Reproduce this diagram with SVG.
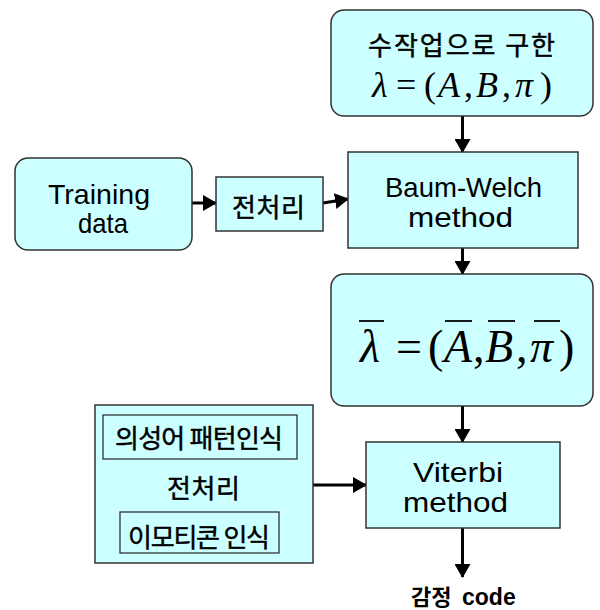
<svg xmlns="http://www.w3.org/2000/svg" width="600" height="610" viewBox="0 0 600 610">
<style>
.box{fill:#CCFFFF;stroke:#333333;stroke-width:1.5}
.inner{fill:#CCFFFF;stroke:#333333;stroke-width:1.3}
.lat{font-family:"Liberation Sans","Noto Sans CJK KR",sans-serif;font-size:28px;fill:#000}
.kr{font-family:"Noto Sans CJK KR","Liberation Sans",sans-serif;font-size:26px;fill:#000;stroke:#000;stroke-width:0.45}
.m{font-family:"Liberation Serif",serif;fill:#000}
.i{font-style:italic}
.conn{stroke:#000;stroke-width:3;fill:none;marker-end:url(#ah)}
.bar{stroke:#000;stroke-width:1.8}
</style>
<defs>
<marker id="ah" markerUnits="userSpaceOnUse" markerWidth="14" markerHeight="16" refX="13" refY="8" orient="auto">
<path d="M0,0 L14,8 L0,16 z" fill="#000"/>
</marker>
</defs>
<rect width="600" height="610" fill="#FFFFFF"/>

<g id="connectors">
<line class="conn" x1="462.5" y1="116" x2="462.5" y2="152"/>
<line class="conn" x1="192" y1="203" x2="216" y2="203"/>
<line class="conn" x1="323" y1="203" x2="348" y2="199"/>
<line class="conn" x1="462.5" y1="248" x2="462.5" y2="274"/>
<line class="conn" x1="462.5" y1="406" x2="462.5" y2="442"/>
<line class="conn" x1="313" y1="485" x2="366" y2="485"/>
<line class="conn" x1="462.5" y1="528" x2="462.5" y2="577"/>
</g>

<g id="initial-model">
<rect class="box" x="331" y="10" width="262" height="106" rx="13"/>
<text class="kr" x="461.5" y="54.5" text-anchor="middle" textLength="187" lengthAdjust="spacing">수작업으로 구한</text>
<g class="m" font-size="36">
<text class="i" x="372" y="97">λ</text>
<text x="396" y="97">=</text>
<text x="424" y="97">(</text>
<text class="i" x="438" y="97">A</text>
<text x="464" y="97">,</text>
<text class="i" x="476" y="97">B</text>
<text x="502" y="97">,</text>
<text class="i" x="515" y="97">π</text>
<text x="540" y="97">)</text>
</g>
</g>

<g id="training-data">
<rect class="box" x="15" y="158" width="177" height="92" rx="13"/>
<text class="lat" x="99" y="204" text-anchor="middle" textLength="102" lengthAdjust="spacingAndGlyphs">Training</text>
<text class="lat" x="103" y="233" text-anchor="middle" textLength="50" lengthAdjust="spacingAndGlyphs">data</text>
</g>

<g id="preprocess-1">
<rect class="box" x="216" y="177" width="107" height="54"/>
<text class="kr" x="268.5" y="216.5" font-size="27" text-anchor="middle" textLength="73" lengthAdjust="spacing">전처리</text>
</g>

<g id="baum-welch">
<rect class="box" x="348" y="152" width="230" height="96"/>
<text class="lat" x="463.5" y="197" text-anchor="middle" textLength="157" lengthAdjust="spacingAndGlyphs">Baum-Welch</text>
<text class="lat" x="460.5" y="227" text-anchor="middle" textLength="105" lengthAdjust="spacingAndGlyphs">method</text>
</g>

<g id="trained-model">
<rect class="box" x="331" y="274" width="262" height="132" rx="13"/>
<g class="m" font-size="46">
<text class="i" x="360" y="362">λ</text>
<text x="396" y="362">=</text>
<text x="428" y="362">(</text>
<text class="i" x="444" y="362">A</text>
<text x="473" y="362">,</text>
<text class="i" x="485" y="362">B</text>
<text x="516" y="362">,</text>
<text class="i" x="530" y="362">π</text>
<text x="559" y="362">)</text>
</g>
<line class="bar" x1="359" y1="321" x2="384" y2="321"/>
<line class="bar" x1="445" y1="321" x2="472" y2="321"/>
<line class="bar" x1="488" y1="321" x2="515" y2="321"/>
<line class="bar" x1="534" y1="321" x2="560" y2="321"/>
</g>

<g id="preprocess-2">
<rect class="box" x="95" y="405" width="218" height="158"/>
<rect class="inner" x="103" y="415" width="194" height="44"/>
<text class="kr" x="199" y="447.5" font-size="26" text-anchor="middle" textLength="168" lengthAdjust="spacing">의성어 패턴인식</text>
<text class="kr" x="203.5" y="497.5" font-size="27" text-anchor="middle" textLength="73" lengthAdjust="spacing">전처리</text>
<rect class="inner" x="120" y="512" width="159" height="41"/>
<text class="kr" x="199" y="546.5" font-size="26" text-anchor="middle" textLength="142" lengthAdjust="spacing">이모티콘 인식</text>
</g>

<g id="viterbi">
<rect class="box" x="366" y="442" width="194" height="86"/>
<text class="lat" x="458" y="482" text-anchor="middle" textLength="90" lengthAdjust="spacingAndGlyphs">Viterbi</text>
<text class="lat" x="455.5" y="512" text-anchor="middle" textLength="105" lengthAdjust="spacingAndGlyphs">method</text>
</g>

<g id="output">
<text y="605" font-family="Liberation Sans,'Noto Sans CJK KR',sans-serif" font-size="23" font-weight="bold"><tspan x="411" font-size="22">감정</tspan><tspan x="462">code</tspan></text>
</g>
</svg>
